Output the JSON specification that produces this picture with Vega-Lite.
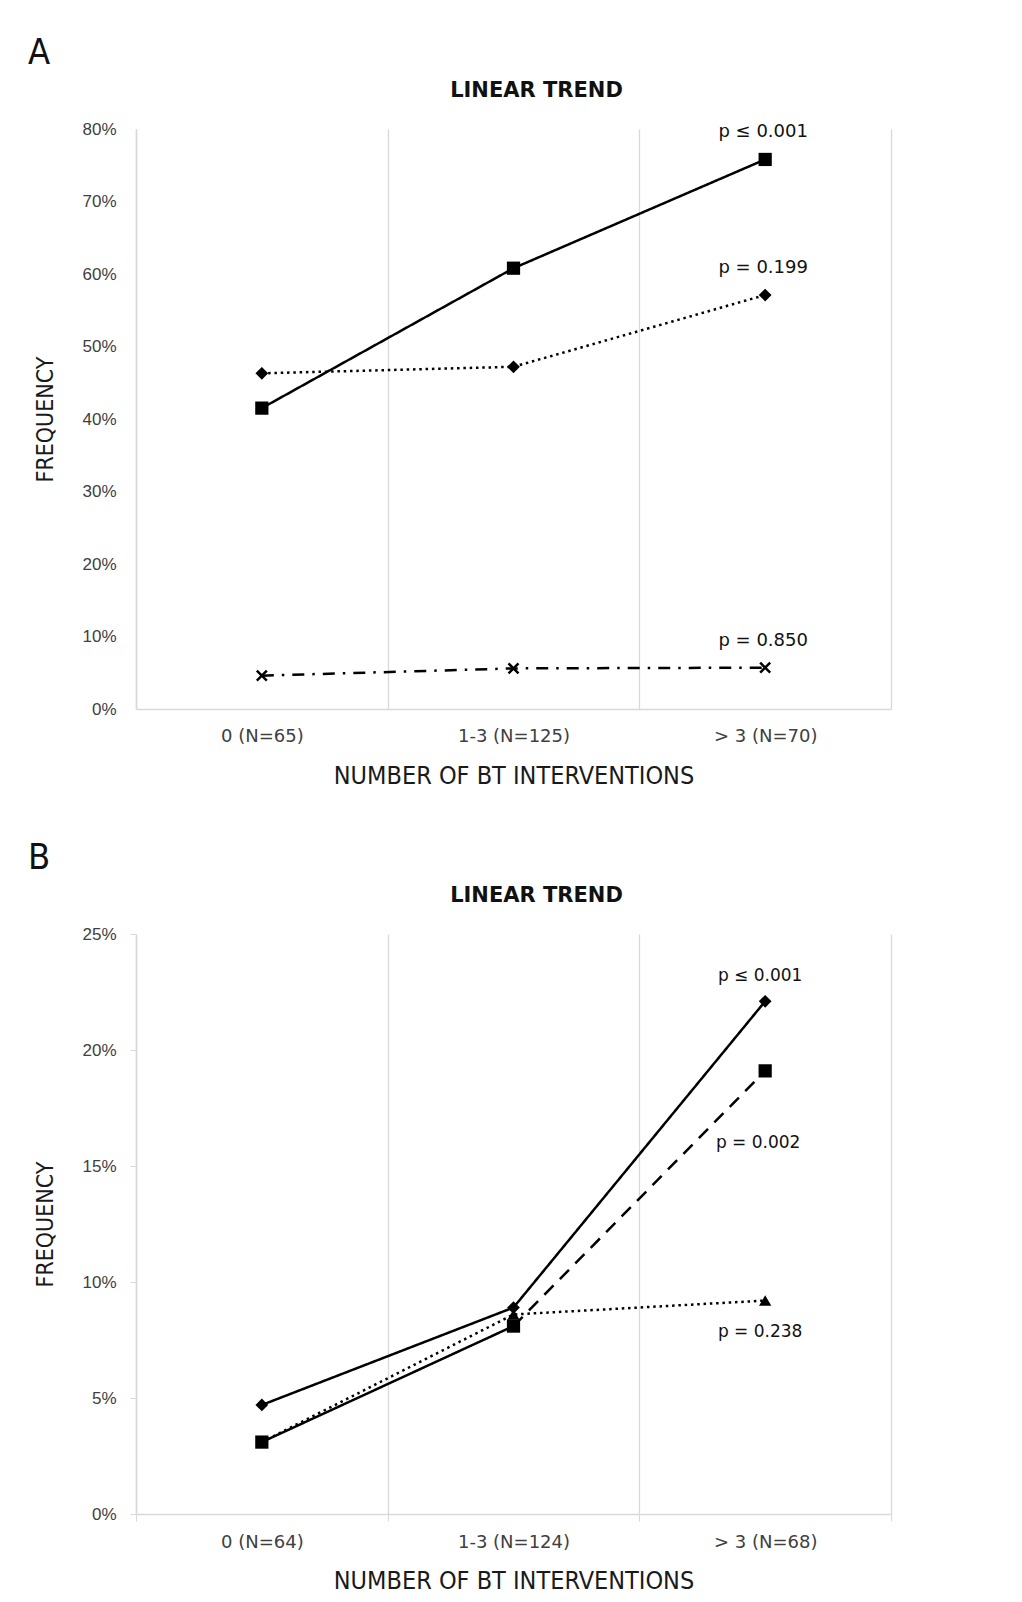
{
  "$schema": "https://vega.github.io/schema/vega-lite/v6.json",
  "background": "white",
  "padding": {"left": 27, "top": 35, "right": 5, "bottom": 5},
  "spacing": 52,
  "resolve": {"scale": {"strokeDash": "independent", "shape": "independent"}},
  "config": {
    "view": {"stroke": null},
    "title": {"font": "DejaVu Sans Condensed, Liberation Sans Narrow, Arial Narrow, sans-serif", "fontSize": 36, "fontWeight": "normal", "color": "#111111", "anchor": "start", "frame": "bounds", "offset": 7, "dx": -7}
  },
  "vconcat": [
    {
      "width": 755,
      "height": 580,
      "title": {"text": "A"},
      "data": {"values": [
        {"cat": "0 (N=65)", "s": "sq", "v": 0.415},
        {"cat": "1-3 (N=125)", "s": "sq", "v": 0.608},
        {"cat": "> 3 (N=70)", "s": "sq", "v": 0.758, "p": "p ≤ 0.001"},
        {"cat": "0 (N=65)", "s": "di", "v": 0.463},
        {"cat": "1-3 (N=125)", "s": "di", "v": 0.472},
        {"cat": "> 3 (N=70)", "s": "di", "v": 0.571, "p": "p = 0.199"},
        {"cat": "0 (N=65)", "s": "x", "v": 0.046},
        {"cat": "1-3 (N=125)", "s": "x", "v": 0.056},
        {"cat": "> 3 (N=70)", "s": "x", "v": 0.057, "p": "p = 0.850"}
      ]},
      "layer": [
        {
          "mark": {"type": "line", "color": "black", "strokeWidth": 2.5},
          "encoding": {
            "x": {"field": "cat", "type": "nominal", "sort": null, "scale": {"type": "band", "paddingInner": 0, "paddingOuter": 0},
              "axis": {"title": "NUMBER OF  BT INTERVENTIONS", "titleFont": "DejaVu Sans Condensed, Liberation Sans Narrow, Arial Narrow, sans-serif", "titleFontSize": 25, "titleFontWeight": "normal", "titleColor": "#1a1a1a", "titlePadding": 18,
                "labelAngle": 0, "labelFont": "DejaVu Sans", "labelFontSize": 18, "labelColor": "#404040", "labelPadding": 18,
                "tickBand": "extent", "ticks": false, "grid": true, "gridColor": "#d9d9d9", "gridWidth": 1.3, "domainColor": "#d9d9d9", "domainWidth": 1.5}},
            "y": {"field": "v", "type": "quantitative", "scale": {"domain": [0, 0.8], "nice": false},
              "axis": {"title": "FREQUENCY", "titleFont": "DejaVu Sans Condensed, Liberation Sans Narrow, Arial Narrow, sans-serif", "titleFontSize": 23, "titleFontWeight": "normal", "titleColor": "#1a1a1a", "titlePadding": 24,
                "format": ".0%", "values": [0, 0.1, 0.2, 0.3, 0.4, 0.5, 0.6, 0.7, 0.8], "labelFont": "Liberation Sans", "labelFontSize": 17, "labelColor": "#404040", "labelPadding": 20,
                "grid": false, "ticks": false, "domainColor": "#d9d9d9", "domainWidth": 1.5}},
            "detail": {"field": "s"},
            "strokeDash": {"field": "s", "type": "nominal", "scale": {"domain": ["sq", "di", "x"], "range": [[1, 0], [2.5, 3.8], [12, 8, 2.5, 8]]}, "legend": null}
          }
        },
        {
          "transform": [{"filter": "datum.s != 'x'"}],
          "mark": {"type": "point", "filled": true, "color": "black", "opacity": 1},
          "encoding": {
            "x": {"field": "cat", "type": "nominal", "sort": null, "axis": null},
            "y": {"field": "v", "type": "quantitative"},
            "shape": {"field": "s", "type": "nominal", "scale": {"domain": ["sq", "di"], "range": ["square", "diamond"]}, "legend": null},
            "size": {"field": "s", "type": "nominal", "scale": {"domain": ["sq", "di"], "range": [175, 150]}, "legend": null}
          }
        },
        {
          "transform": [{"filter": "datum.s == 'x'"}],
          "mark": {"type": "point", "shape": "M-1,-1L1,1M1,-1L-1,1", "filled": false, "color": "black", "strokeWidth": 2.5, "size": 100, "opacity": 1},
          "encoding": {
            "x": {"field": "cat", "type": "nominal", "sort": null, "axis": null},
            "y": {"field": "v", "type": "quantitative"}
          }
        },
        {
          "transform": [{"filter": "isValid(datum.p)"}],
          "mark": {"type": "text", "dy": -27, "dx": -2, "font": "DejaVu Sans", "fontSize": 18, "color": "#111111"},
          "encoding": {
            "x": {"field": "cat", "type": "nominal", "sort": null, "axis": null},
            "y": {"field": "v", "type": "quantitative"},
            "text": {"field": "p"}
          }
        },
        {
          "mark": {"type": "point", "opacity": 0},
          "encoding": {
            "x": {"field": "cat", "type": "nominal", "sort": null,
              "axis": {"orient": "top", "labels": false, "ticks": false, "domain": false, "grid": false, "title": "LINEAR TREND", "titleFont": "DejaVu Sans", "titleFontSize": 21, "titleFontWeight": "bold", "titleColor": "#111111", "titlePadding": 29, "titleX": 400}},
            "y": {"field": "v", "type": "quantitative"}
          }
        }
      ],
      "resolve": {"axis": {"x": "independent"}}
    },
    {
      "width": 755,
      "height": 580,
      "title": {"text": "B"},
      "data": {"values": [
        {"cat": "0 (N=64)", "s": "di", "part": "di", "v": 0.047},
        {"cat": "1-3 (N=124)", "s": "di", "part": "di", "v": 0.089},
        {"cat": "> 3 (N=68)", "s": "di", "part": "di", "v": 0.221, "p": "p ≤ 0.001"},
        {"cat": "0 (N=64)", "s": "tri", "part": "tri", "v": 0.031},
        {"cat": "1-3 (N=124)", "s": "tri", "part": "tri", "v": 0.086},
        {"cat": "> 3 (N=68)", "s": "tri", "part": "tri", "v": 0.092, "p": "p = 0.238"},
        {"cat": "0 (N=64)", "s": "sq", "part": "sq-early", "v": 0.031},
        {"cat": "1-3 (N=124)", "s": "sq", "part": "sq-early", "v": 0.081},
        {"cat": "> 3 (N=68)", "s": "sq", "part": "sq-late", "v": 0.191, "p": "p = 0.002"}
      ]},
      "layer": [
        {
          "transform": [{"filter": "datum.part != 'sq-late'"}],
          "mark": {"type": "line", "color": "black", "strokeWidth": 2.5},
          "encoding": {
            "x": {"field": "cat", "type": "nominal", "sort": null, "scale": {"type": "band", "paddingInner": 0, "paddingOuter": 0},
              "axis": {"title": "NUMBER OF BT INTERVENTIONS", "titleFont": "DejaVu Sans Condensed, Liberation Sans Narrow, Arial Narrow, sans-serif", "titleFontSize": 25, "titleFontWeight": "normal", "titleColor": "#1a1a1a", "titlePadding": 17,
                "labelAngle": 0, "labelFont": "DejaVu Sans", "labelFontSize": 18, "labelColor": "#404040", "labelPadding": 12,
                "tickBand": "extent", "ticks": true, "tickSize": 7, "tickColor": "#d9d9d9", "grid": true, "gridColor": "#d9d9d9", "gridWidth": 1.3, "domainColor": "#d9d9d9", "domainWidth": 1.5}},
            "y": {"field": "v", "type": "quantitative", "scale": {"domain": [0, 0.25], "nice": false},
              "axis": {"title": "FREQUENCY", "titleFont": "DejaVu Sans Condensed, Liberation Sans Narrow, Arial Narrow, sans-serif", "titleFontSize": 23, "titleFontWeight": "normal", "titleColor": "#1a1a1a", "titlePadding": 24,
                "format": ".0%", "values": [0, 0.05, 0.1, 0.15, 0.2, 0.25], "labelFont": "Liberation Sans", "labelFontSize": 17, "labelColor": "#404040", "labelPadding": 14,
                "grid": false, "ticks": true, "tickSize": 6, "tickColor": "#d9d9d9", "domainColor": "#d9d9d9", "domainWidth": 1.5}},
            "detail": {"field": "part"},
            "strokeDash": {"field": "part", "type": "nominal", "scale": {"domain": ["di", "sq-early", "tri"], "range": [[1, 0], [1, 0], [2.5, 3.8]]}, "legend": null}
          }
        },
        {
          "transform": [{"filter": "datum.s == 'sq' && datum.cat != '0 (N=64)'"}],
          "mark": {"type": "line", "color": "black", "strokeWidth": 2.5, "strokeDash": [13, 9]},
          "encoding": {
            "x": {"field": "cat", "type": "nominal", "sort": null, "axis": null},
            "y": {"field": "v", "type": "quantitative"}
          }
        },
        {
          "mark": {"type": "point", "filled": true, "color": "black", "opacity": 1},
          "encoding": {
            "x": {"field": "cat", "type": "nominal", "sort": null, "axis": null},
            "y": {"field": "v", "type": "quantitative"},
            "shape": {"field": "s", "type": "nominal", "scale": {"domain": ["di", "sq", "tri"], "range": ["diamond", "square", "triangle-up"]}, "legend": null},
            "size": {"field": "s", "type": "nominal", "scale": {"domain": ["di", "sq", "tri"], "range": [150, 175, 150]}, "legend": null},
            "order": {"field": "s", "sort": "descending"}
          }
        },
        {
          "transform": [{"filter": "datum.s == 'di' && isValid(datum.p)"}],
          "mark": {"type": "text", "dy": -25, "dx": -5, "font": "DejaVu Sans", "fontSize": 17, "color": "#111111"},
          "encoding": {
            "x": {"field": "cat", "type": "nominal", "sort": null, "axis": null},
            "y": {"field": "v", "type": "quantitative"},
            "text": {"field": "p"}
          }
        },
        {
          "transform": [{"filter": "datum.s == 'sq' && isValid(datum.p)"}],
          "mark": {"type": "text", "dy": 72, "dx": -7, "font": "DejaVu Sans", "fontSize": 17, "color": "#111111"},
          "encoding": {
            "x": {"field": "cat", "type": "nominal", "sort": null, "axis": null},
            "y": {"field": "v", "type": "quantitative"},
            "text": {"field": "p"}
          }
        },
        {
          "transform": [{"filter": "datum.s == 'tri' && isValid(datum.p)"}],
          "mark": {"type": "text", "dy": 31, "dx": -5, "font": "DejaVu Sans", "fontSize": 17, "color": "#111111"},
          "encoding": {
            "x": {"field": "cat", "type": "nominal", "sort": null, "axis": null},
            "y": {"field": "v", "type": "quantitative"},
            "text": {"field": "p"}
          }
        },
        {
          "mark": {"type": "point", "opacity": 0},
          "encoding": {
            "x": {"field": "cat", "type": "nominal", "sort": null,
              "axis": {"orient": "top", "labels": false, "ticks": false, "domain": false, "grid": false, "title": "LINEAR TREND", "titleFont": "DejaVu Sans", "titleFontSize": 21, "titleFontWeight": "bold", "titleColor": "#111111", "titlePadding": 29, "titleX": 400}},
            "y": {"field": "v", "type": "quantitative"}
          }
        }
      ],
      "resolve": {"axis": {"x": "independent"}}
    }
  ]
}
